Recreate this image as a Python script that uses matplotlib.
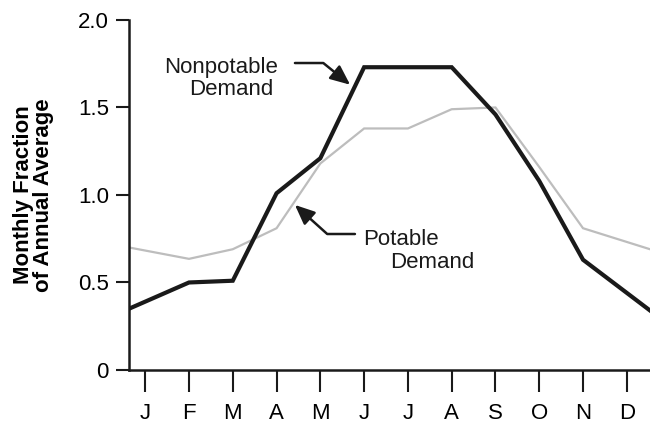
import matplotlib
matplotlib.use("Agg")
import matplotlib.pyplot as plt

# Monthly demand as a fraction of the annual average
months = ["J", "F", "M", "A", "M", "J", "J", "A", "S", "O", "N", "D"]
month_pos = list(range(1, 13))

# x positions of the points (edges are the Dec/Jan wrap values at the axis limits)
x_pts = [0.63, 2, 3, 4, 5, 6, 7, 8, 9, 10, 11, 12.53]
nonpotable = [0.35, 0.50, 0.51, 1.01, 1.21, 1.73, 1.73, 1.73, 1.46, 1.08, 0.63, 0.34]
potable = [0.70, 0.635, 0.69, 0.81, 1.18, 1.38, 1.38, 1.49, 1.50, 1.16, 0.81, 0.69]

y_ticks = [0, 0.5, 1.0, 1.5, 2.0]
y_ticklabels = ["0", "0.5", "1.0", "1.5", "2.0"]

plt.rcParams["font.family"] = ["Liberation Sans", "DejaVu Sans"]

fig = plt.figure(figsize=(6.5, 4.24), dpi=100)
ax = fig.add_axes([0.1985, 0.1274, 0.8015, 0.8255])

ax.plot(x_pts, potable, color="#bdbdbd", linewidth=1.6, solid_joinstyle="miter")
ax.plot(x_pts, nonpotable, color="#1a1a1a", linewidth=3.0, solid_joinstyle="miter")

ax.set_xlim(0.63, 12.53)
ax.set_ylim(0, 2.0)

ax.set_xticks(month_pos)
ax.set_xticklabels(months)
ax.set_yticks(y_ticks)
ax.set_yticklabels(y_ticklabels)

for side in ["top", "right"]:
    ax.spines[side].set_visible(False)
for side in ["left", "bottom"]:
    ax.spines[side].set_linewidth(1.8)
    ax.spines[side].set_color("#1a1a1a")

ax.tick_params(axis="y", length=9.5, width=1.5, pad=5, labelsize=16, color="#1a1a1a")
ax.tick_params(axis="x", length=16, width=1.5, pad=8, labelsize=16, color="#1a1a1a")

ax.set_ylabel("Monthly Fraction\nof Annual Average", fontsize=16, fontweight="bold",
              linespacing=0.95, labelpad=17)

arrow_style = dict(arrowstyle="-|>,head_length=0.8,head_width=0.35", mutation_scale=15,
                   color="#1a1a1a", lw=1.8, shrinkA=0, shrinkB=0)

# annotations
ax.text(4.03, 1.697, "Nonpotable", fontsize=16, ha="right", va="baseline", color="#1a1a1a")
ax.text(3.92, 1.571, "Demand", fontsize=16, ha="right", va="baseline", color="#1a1a1a")
ax.annotate("", xy=(5.68, 1.63), xytext=(4.42, 1.754),
            arrowprops=dict(connectionstyle="angle,angleA=0,angleB=-39,rad=0", **arrow_style))

ax.text(5.974, 0.714, "Potable", fontsize=16, ha="left", va="baseline", color="#1a1a1a")
ax.text(6.59, 0.583, "Demand", fontsize=16, ha="left", va="baseline", color="#1a1a1a")
ax.annotate("", xy=(4.42, 0.943), xytext=(5.79, 0.777),
            arrowprops=dict(connectionstyle="angle,angleA=180,angleB=-42,rad=0", **arrow_style))

fig.savefig("out.png", dpi=100)
